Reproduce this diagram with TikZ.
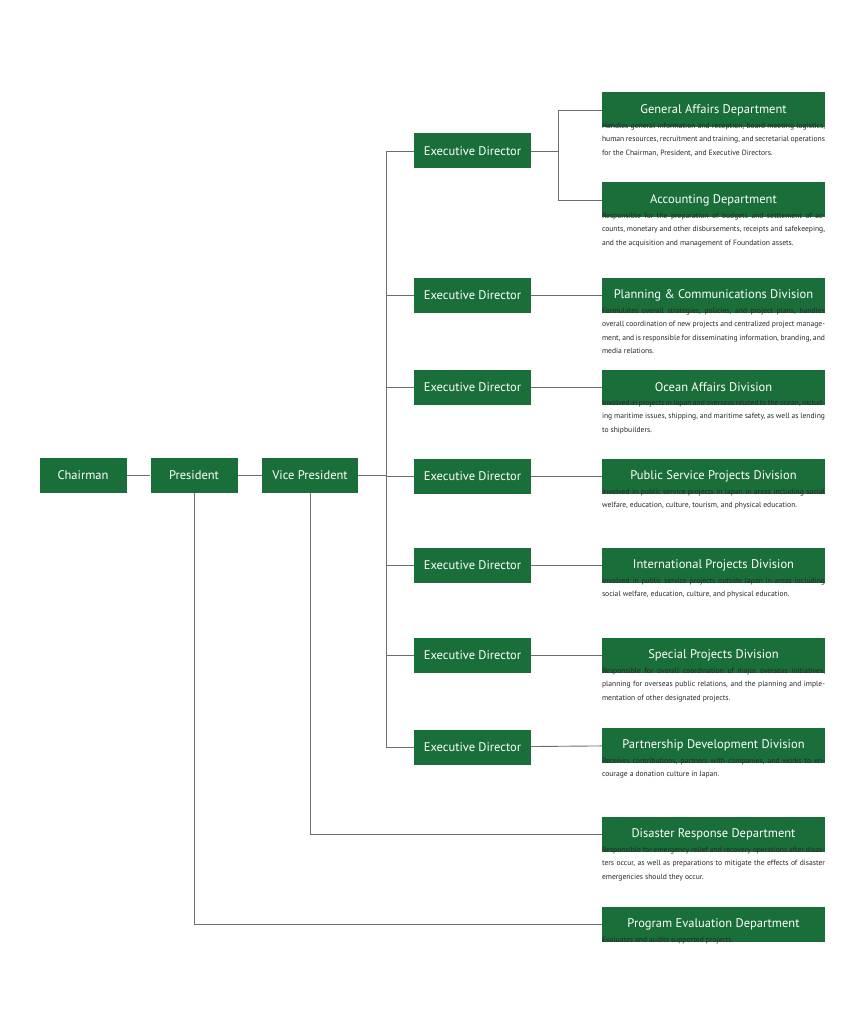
\documentclass[tikz,border=0pt]{standalone}
\usepackage{fontspec}
\setmainfont{PT Sans}
\definecolor{boxg}{HTML}{1A6E3A}
\definecolor{lineg}{HTML}{6E6E6E}
\begin{document}
\begin{tikzpicture}[x=1pt,y=-1pt,
  gbox/.style={draw=none,fill=boxg,text=white,minimum height=35pt,inner sep=0pt,font=\fontsize{12.5}{14}\selectfont},
  small/.style={gbox,minimum width=87pt},
  ed/.style={gbox,minimum width=117pt},
  dept/.style={gbox,minimum width=223pt},
  desc/.style={anchor=north west,inner sep=0pt,text width=223pt,align=justify,font=\fontsize{7.6}{13.4}\selectfont,text=black!85},
  conn/.style={draw=lineg,line width=0.9pt}]
\useasboundingbox (0,0) rectangle (867,1024);
\node[small] (ch) at (83,475) {Chairman};
\node[small] (pr) at (194,475) {President};
\node[gbox,minimum width=96pt] (vp) at (310,475) {Vice President};
\foreach \n/\y in {1/151,2/295,3/387,4/476,5/565,6/655,7/747}
  \node[ed] (ed\n) at (472.5,\y) {Executive Director};
\node[dept] (ga) at (713.5,110) {General Affairs Department};
\node[dept] (ac) at (713.5,200) {Accounting Department};
\node[dept] (pl) at (713.5,295) {Planning \& Communications Division};
\node[dept] (oc) at (713.5,387) {Ocean Affairs Division};
\node[dept] (ps) at (713.5,476) {Public Service Projects Division};
\node[dept] (in) at (713.5,565) {International Projects Division};
\node[dept] (sp) at (713.5,655) {Special Projects Division};
\node[dept] (pa) at (713.5,745) {Partnership Development Division};
\node[dept] (di) at (713.5,834) {Disaster Response Department};
\node[dept] (pe) at (713.5,924) {Program Evaluation Department};
\node[desc] (dga) at ([yshift=5pt]ga.south west) {Handles general information and reception, board meeting logistics, human resources, recruitment and training, and secretarial operations for the Chairman, President, and Executive Directors.};
\node[desc] (dac) at ([yshift=5pt]ac.south west) {Responsible for the preparation of budgets and settlement of accounts, monetary and other disbursements, receipts and safekeeping, and the acquisition and management of Foundation assets.};
\node[desc] (dpl) at ([yshift=5pt]pl.south west) {Formulates overall strategies, policies, and project plans, handles overall coordination of new projects and centralized project management, and is responsible for disseminating information, branding, and media relations.};
\node[desc] (doc) at ([yshift=5pt]oc.south west) {Involved in projects in Japan and overseas related to the ocean, including maritime issues, shipping, and maritime safety, as well as lending to shipbuilders.};
\node[desc] (dps) at ([yshift=5pt]ps.south west) {Involved in public service projects in Japan in areas including social welfare, education, culture, tourism, and physical education.};
\node[desc] (din) at ([yshift=5pt]in.south west) {Involved in public service projects outside Japan in areas including social welfare, education, culture, and physical education.};
\node[desc] (dsp) at ([yshift=5pt]sp.south west) {Responsible for overall coordination of major overseas initiatives, planning for overseas public relations, and the planning and implementation of other designated projects.};
\node[desc] (dpa) at ([yshift=5pt]pa.south west) {Receives contributions, partners with companies, and works to encourage a donation culture in Japan.};
\node[desc] (ddi) at ([yshift=5pt]di.south west) {Responsible for emergency relief and recovery operations after disasters occur, as well as preparations to mitigate the effects of disaster emergencies should they occur.};
\node[desc] (dpe) at ([yshift=5pt]pe.south west) {Evaluates and audits supported projects.};
\coordinate (bus) at (386,475);
\draw[conn] (ch) -- (pr);
\draw[conn] (pr) -- (vp);
\draw[conn] (vp) -- (bus);
\draw[conn] (ed1.west) -| (386,747) -- (ed7.west);
\foreach \n in {2,3,4,5,6} \draw[conn] (386,0 |- ed\n.west) -- (ed\n.west);
\draw[conn] (ed1) -- (558,151);
\draw[conn] (ga.west) -| (558,200) -- (ac.west);
\draw[conn] (ed2) -- (pl);
\draw[conn] (ed3) -- (oc);
\draw[conn] (ed4) -- (ps);
\draw[conn] (ed5) -- (in);
\draw[conn] (ed6) -- (sp);
\draw[conn] (ed7) -- (pa);
\draw[conn] (vp.south) |- (di.west);
\draw[conn] (pr.south) |- (pe.west);
\end{tikzpicture}
\end{document}
